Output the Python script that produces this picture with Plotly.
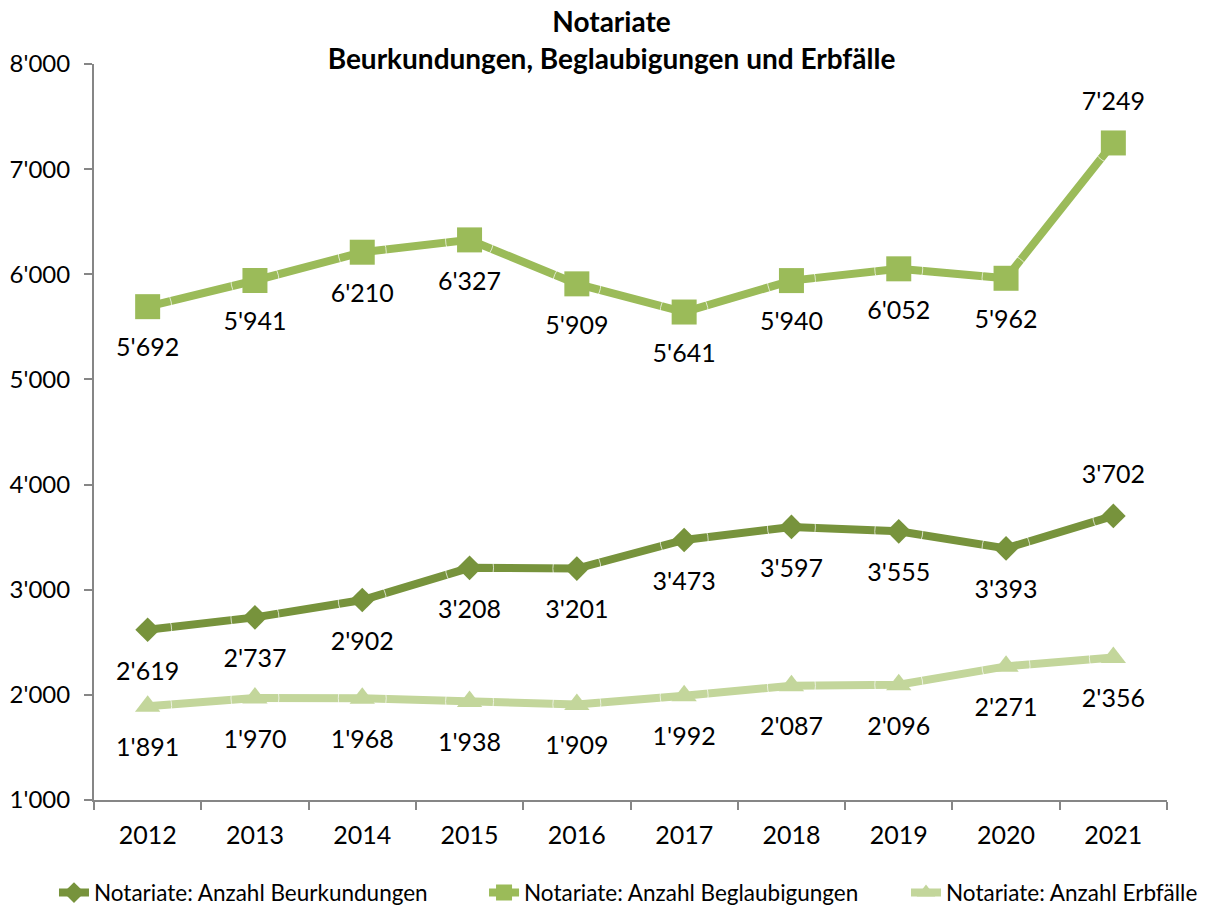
import plotly.graph_objects as go

years = ["2012", "2013", "2014", "2015", "2016", "2017", "2018", "2019", "2020", "2021"]
beurkundungen = [2619, 2737, 2902, 3208, 3201, 3473, 3597, 3555, 3393, 3702]
beglaubigungen = [5692, 5941, 6210, 6327, 5909, 5641, 5940, 6052, 5962, 7249]
erbfaelle = [1891, 1970, 1968, 1938, 1909, 1992, 2087, 2096, 2271, 2356]

# label side per point: "bottom" / "top"
side_beurk = ["bottom"] * 9 + ["top"]
side_begl = ["bottom"] * 9 + ["top"]
side_erb = ["bottom"] * 10

y_ticks = [1000, 2000, 3000, 4000, 5000, 6000, 7000, 8000]

def fmt(v):
    return f"{v:,}".replace(",", "'")

FONT = "Lato, Carlito, sans-serif"
LABEL_SIZE = 25

fig = go.Figure()
series = [
    ("Notariate: Anzahl Beurkundungen", beurkundungen, "#77933C", "diamond", 19, side_beurk, "legend"),
    ("Notariate: Anzahl Beglaubigungen", beglaubigungen, "#9BBB59", "square", 25, side_begl, "legend2"),
    ("Notariate: Anzahl Erbfälle", erbfaelle, "#C3D69B", "triangle-up", 22, side_erb, "legend3"),
]
for name, vals, col, sym, sz, sides, leg in series:
    fig.add_trace(go.Scatter(
        x=years, y=vals, name=name, mode="lines+markers",
        line=dict(color=col, width=8),
        marker=dict(symbol=sym, size=sz, color=col),
        cliponaxis=False, legend=leg,
    ))
# data labels: transparent spacer markers push the text away from the points
for name, vals, col, sym, sz, sides, leg in series:
    fig.add_trace(go.Scatter(
        x=years, y=vals, mode="markers+text", showlegend=False, hoverinfo="skip",
        marker=dict(size=[48 if s == "bottom" else 41 for s in sides], color="rgba(0,0,0,0)"),
        text=[fmt(v) for v in vals], textposition=[s + " center" for s in sides],
        textfont=dict(size=LABEL_SIZE, family=FONT, color="black"),
        cliponaxis=False,
    ))

leg_common = dict(orientation="h", xref="container", xanchor="left",
                  yref="container", y=0.0178, yanchor="middle",
                  font=dict(size=22.5, family=FONT, color="black"), bgcolor="rgba(0,0,0,0)")

fig.update_layout(
    width=1207, height=901,
    paper_bgcolor="white", plot_bgcolor="white",
    margin=dict(l=86, r=48, t=56, b=109),
    title=dict(text="<b>Notariate<br>Beurkundungen, Beglaubigungen und Erbfälle</b>",
               x=0.5, xref="container", xanchor="center", y=0.973, yref="container", yanchor="top",
               font=dict(size=28, family=FONT, color="black")),
    font=dict(family=FONT, color="black"),
    legend=dict(x=0.0381, **leg_common),
    legend2=dict(x=0.3944, **leg_common),
    legend3=dict(x=0.7440, **leg_common),
    showlegend=True,
)
fig.update_xaxes(type="category", range=[-0.5, 9.5], showline=True, linecolor="#868686", linewidth=2,
                 ticks="outside", tickson="boundaries", ticklen=8, tickcolor="#868686", tickwidth=2,
                 tickfont=dict(size=25, family=FONT), showgrid=False, automargin=False,
                 ticklabelstandoff=12)
fig.update_yaxes(range=[1000, 8000], showline=True, linecolor="#868686", linewidth=2,
                 ticks="outside", ticklen=8, tickcolor="#868686", tickwidth=2, showgrid=False,
                 tickvals=y_ticks, ticktext=[fmt(v) for v in y_ticks],
                 tickfont=dict(size=24, family=FONT), zeroline=False, automargin=False,
                 ticklabelstandoff=9)

fig.write_html("out.html")
